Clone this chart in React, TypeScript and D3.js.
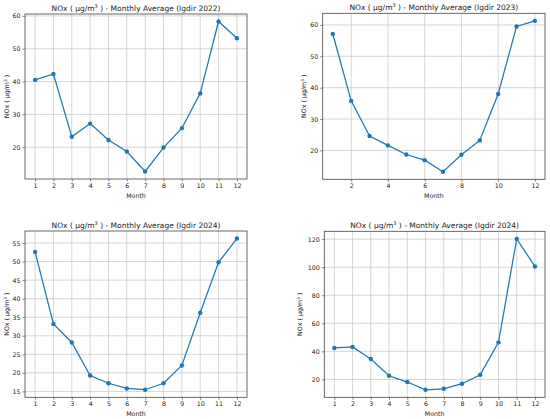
import * as d3 from 'd3'
import {useRef, useEffect} from 'react'

const months: number[] = [1, 2, 3, 4, 5, 6, 7, 8, 9, 10, 11, 12]

const nox2022: number[] = [40.5, 42.3, 23.2, 27.2, 22.2, 18.7, 12.6, 19.9, 25.8, 36.4, 58.3, 53.2]
const nox2023: number[] = [57.1, 35.8, 24.6, 21.6, 18.7, 16.9, 13.2, 18.6, 23.2, 38.0, 59.5, 61.3]
const nox2024a: number[] = [52.6, 33.2, 28.2, 19.3, 17.2, 15.8, 15.45, 17.2, 22.0, 36.2, 49.8, 56.2]
const nox2024b: number[] = [42.4, 43.1, 34.5, 22.6, 18.1, 12.6, 13.3, 16.9, 23.3, 46.4, 120.2, 100.5]

const years: string[] = ['2022', '2023', '2024', '2024']

const xTicksAll: number[] = months
const xTicksEven: number[] = [2, 4, 6, 8, 10, 12]
const yTicks2022: number[] = [20, 30, 40, 50, 60]
const yTicks2023: number[] = [20, 30, 40, 50, 60]
const yTicks2024a: number[] = [15, 20, 25, 30, 35, 40, 45, 50, 55]
const yTicks2024b: number[] = [20, 40, 60, 80, 100, 120]

interface PanelInterface {
  values: number[]
  year: string
  xTicks: number[]
  yTicks: number[]
  left: number
  right: number
  top: number
  bottom: number
  ylabelX: number
}

const panels: PanelInterface[] = [
  {values: nox2022, year: years[0], xTicks: xTicksAll, yTicks: yTicks2022, left: 25, right: 247, top: 14, bottom: 179, ylabelX: 7},
  {values: nox2023, year: years[1], xTicks: xTicksEven, yTicks: yTicks2023, left: 322.7, right: 545, top: 13.3, bottom: 179.3, ylabelX: 304},
  {values: nox2024a, year: years[2], xTicks: xTicksAll, yTicks: yTicks2024a, left: 25, right: 247, top: 231, bottom: 397.3, ylabelX: 7},
  {values: nox2024b, year: years[3], xTicks: xTicksAll, yTicks: yTicks2024b, left: 324.3, right: 545, top: 231.3, bottom: 397.3, ylabelX: 300},
]

const blue = '#1f77b4'
const font = '"DejaVu Sans", sans-serif'
const tickSize = 6.3

const App = () => {
  const svgRef = useRef(null)

  const drawPanels = (): void => {
    const SVG = d3.select(svgRef.current)
    SVG.selectAll('*').remove()
    SVG.append('rect').attr('width', 550).attr('height', 419).attr('fill', '#fff')

    panels.forEach((p) => {
      const g = SVG.append('g')
      const lo = d3.min(p.values)!
      const hi = d3.max(p.values)!
      const pad = (hi - lo) * 0.05

      const xScale = d3.scaleLinear().domain([0.45, 12.55]).range([p.left, p.right])
      const yScale = d3.scaleLinear().domain([lo - pad, hi + pad]).range([p.bottom, p.top])

      // grid
      g.selectAll('.gx').data(p.xTicks).enter().append('line')
        .attr('x1', (d) => xScale(d)).attr('x2', (d) => xScale(d))
        .attr('y1', p.top).attr('y2', p.bottom)
        .attr('stroke', '#cbcbcb').attr('stroke-width', 0.8)
      g.selectAll('.gy').data(p.yTicks).enter().append('line')
        .attr('y1', (d) => yScale(d)).attr('y2', (d) => yScale(d))
        .attr('x1', p.left).attr('x2', p.right)
        .attr('stroke', '#cbcbcb').attr('stroke-width', 0.8)

      const xAxis = d3.axisBottom(xScale).tickValues(p.xTicks).tickSize(2.5).tickPadding(2)
      const yAxis = d3.axisLeft(yScale).tickValues(p.yTicks).tickSize(2.5).tickPadding(2)

      const ax = g.append('g').attr('transform', `translate(0,${p.bottom})`).call(xAxis)
      const ay = g.append('g').attr('transform', `translate(${p.left},0)`).call(yAxis)
      ;[ax, ay].forEach((a) => {
        a.select('.domain').remove()
        a.selectAll('line').attr('stroke', '#333').attr('stroke-width', 0.6)
        a.selectAll('text').attr('font-family', font).attr('font-size', tickSize).attr('fill', '#222')
      })

      g.append('rect')
        .attr('x', p.left).attr('y', p.top)
        .attr('width', p.right - p.left).attr('height', p.bottom - p.top)
        .attr('fill', 'none').attr('stroke', '#444').attr('stroke-width', 0.8)

      const line = d3.line<number>()
        .x((d, i) => xScale(months[i]))
        .y((d) => yScale(d))
      g.append('path').datum(p.values)
        .attr('d', line).attr('fill', 'none')
        .attr('stroke', blue).attr('stroke-width', 1.25)
      g.selectAll('circle').data(p.values).enter().append('circle')
        .attr('cx', (d, i) => xScale(months[i])).attr('cy', (d) => yScale(d))
        .attr('r', 2.2).attr('fill', blue)

      // title
      const t = g.append('text')
        .attr('x', (p.left + p.right) / 2).attr('y', p.top - 3.5)
        .attr('text-anchor', 'middle').attr('font-family', font).attr('font-size', 7.5).attr('fill', '#222')
      t.append('tspan').text('NOx ( μg/m')
      t.append('tspan').attr('font-size', 5).attr('dy', -3).text('3')
      t.append('tspan').attr('dy', 3).text(' ) - Monthly Average (Igdir ' + p.year + ')')

      g.append('text')
        .attr('x', (p.left + p.right) / 2).attr('y', p.bottom + 18.5)
        .attr('text-anchor', 'middle').attr('font-family', font).attr('font-size', tickSize).attr('fill', '#222')
        .text('Month')

      const cy = (p.top + p.bottom) / 2
      const yl = g.append('text')
        .attr('transform', `translate(${p.ylabelX + 2.2},${cy}) rotate(-90)`)
        .attr('text-anchor', 'middle').attr('font-family', font).attr('font-size', tickSize).attr('fill', '#222')
      yl.append('tspan').text('NOx ( μg/m')
      yl.append('tspan').attr('font-size', 4.3).attr('dy', -2.5).text('3')
      yl.append('tspan').attr('dy', 2.5).text(' )')
    })
  }

  useEffect((): void => drawPanels(), [])

  return <svg ref={svgRef} width={550} height={419} style={{position: 'absolute', left: 0, top: 0}}></svg>
}

export default App
